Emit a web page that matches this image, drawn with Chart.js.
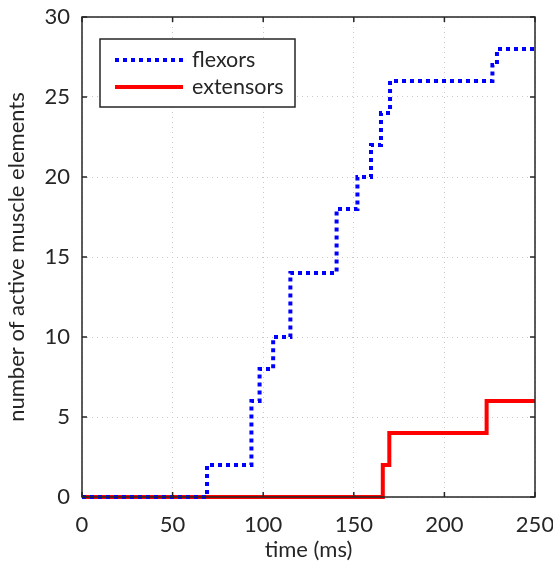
<!DOCTYPE html>
<html>
<head>
<meta charset="utf-8">
<script src="https://cdn.jsdelivr.net/npm/chart.js@4"></script>
<style>
  body { margin: 0; background: #fff; }
</style>
</head>
<body>
<canvas id="muscleChart" width="553" height="567"></canvas>
<script>
// step changes: time (ms) where the count switches, and the new count
const flexorTimes  = [0, 69, 93.5, 98, 105.5, 115, 140.5, 152, 159.5, 165, 170, 226.5, 229, 250];
const flexorCounts = [0, 2, 6, 8, 10, 14, 18, 20, 22, 24, 26, 27, 28, 28];
const extensorTimes  = [0, 166, 169.6, 223.3, 250];
const extensorCounts = [0, 2, 4, 6, 6];
const xTicks = [0, 50, 100, 150, 200, 250];
const yTicks = [0, 5, 10, 15, 20, 25, 30];

const textColor = "#262626";
const fontFamily = "Lato, 'DejaVu Sans', sans-serif";

function toPoints(xs, ys) {
    return xs.map((x, i) => ({ x: x, y: ys[i] }));
}

// box, inward ticks and framed legend (matlab style)
const boxPlugin = {
    id: "boxPlugin",
    afterDatasetsDraw(chart) {
        const ctx = chart.ctx;
        const a = chart.chartArea;
        const sx = chart.scales.x, sy = chart.scales.y;
        ctx.save();
        ctx.strokeStyle = textColor;
        ctx.lineWidth = 1.5;
        ctx.strokeRect(a.left, a.top, a.right - a.left, a.bottom - a.top);
        ctx.beginPath();
        xTicks.forEach(v => {
            const px = sx.getPixelForValue(v);
            ctx.moveTo(px, a.bottom); ctx.lineTo(px, a.bottom - 5);
            ctx.moveTo(px, a.top); ctx.lineTo(px, a.top + 5);
        });
        yTicks.forEach(v => {
            const py = sy.getPixelForValue(v);
            ctx.moveTo(a.left, py); ctx.lineTo(a.left + 5, py);
            ctx.moveTo(a.right, py); ctx.lineTo(a.right - 5, py);
        });
        ctx.stroke();

        // legend
        const lx = 100, ly = 39, lw = 195, lh = 68;
        ctx.fillStyle = "#fff";
        ctx.fillRect(lx, ly, lw, lh);
        ctx.lineWidth = 1.5;
        ctx.strokeStyle = textColor;
        ctx.strokeRect(lx, ly, lw, lh);
        ctx.font = "21.5px " + fontFamily;
        ctx.textBaseline = "middle";
        chart.data.datasets.forEach((ds, i) => {
            const yy = ly + 21 + i * 27;
            ctx.beginPath();
            ctx.strokeStyle = ds.borderColor;
            ctx.lineWidth = ds.borderWidth;
            ctx.setLineDash(ds.borderDash || []);
            ctx.moveTo(lx + 15, yy);
            ctx.lineTo(lx + 83, yy);
            ctx.stroke();
            ctx.setLineDash([]);
            ctx.fillStyle = textColor;
            ctx.fillText(ds.label, lx + 92, yy);
        });
        ctx.restore();
    }
};

const ctx = document.getElementById("muscleChart").getContext("2d");
new Chart(ctx, {
    type: "line",
    data: {
        datasets: [{
            label: "flexors",
            data: toPoints(flexorTimes, flexorCounts),
            borderColor: "#0000ff",
            borderWidth: 4,
            borderDash: [4, 4],
            stepped: true,
            pointRadius: 0,
            clip: 6
        }, {
            label: "extensors",
            data: toPoints(extensorTimes, extensorCounts),
            borderColor: "#ff0000",
            borderWidth: 4,
            stepped: true,
            pointRadius: 0,
            clip: 6
        }]
    },
    options: {
        responsive: false,
        animation: false,
        layout: { padding: { top: 17, right: 18, left: 0, bottom: 0 } },
        plugins: {
            legend: { display: false },
            tooltip: { enabled: false }
        },
        scales: {
            x: {
                type: "linear",
                min: 0,
                max: 250,
                afterBuildTicks: s => { s.ticks = xTicks.map(v => ({ value: v })); },
                afterFit: s => { s.height = 70; s.paddingLeft = 0; s.paddingRight = 0; },
                grid: { color: "#c8c8c8", drawTicks: false },
                border: { display: false, dash: [1, 4] },
                ticks: { color: textColor, font: { size: 22, family: fontFamily }, padding: 15, maxRotation: 0 },
                title: { display: true, text: "time (ms)", color: textColor, font: { size: 22, family: fontFamily }, padding: { top: 4 } }
            },
            y: {
                min: 0,
                max: 30,
                afterBuildTicks: s => { s.ticks = yTicks.map(v => ({ value: v })); },
                afterFit: s => { s.width = 82; s.paddingTop = 0; s.paddingBottom = 0; },
                grid: { color: "#c8c8c8", drawTicks: false },
                border: { display: false, dash: [1, 4] },
                ticks: { color: textColor, font: { size: 22, family: fontFamily }, padding: 12 },
                title: { display: true, text: "number of active muscle elements", color: textColor, font: { size: 22, family: fontFamily }, padding: { bottom: 0 } }
            }
        }
    },
    plugins: [boxPlugin]
});
</script>
</body>
</html>
